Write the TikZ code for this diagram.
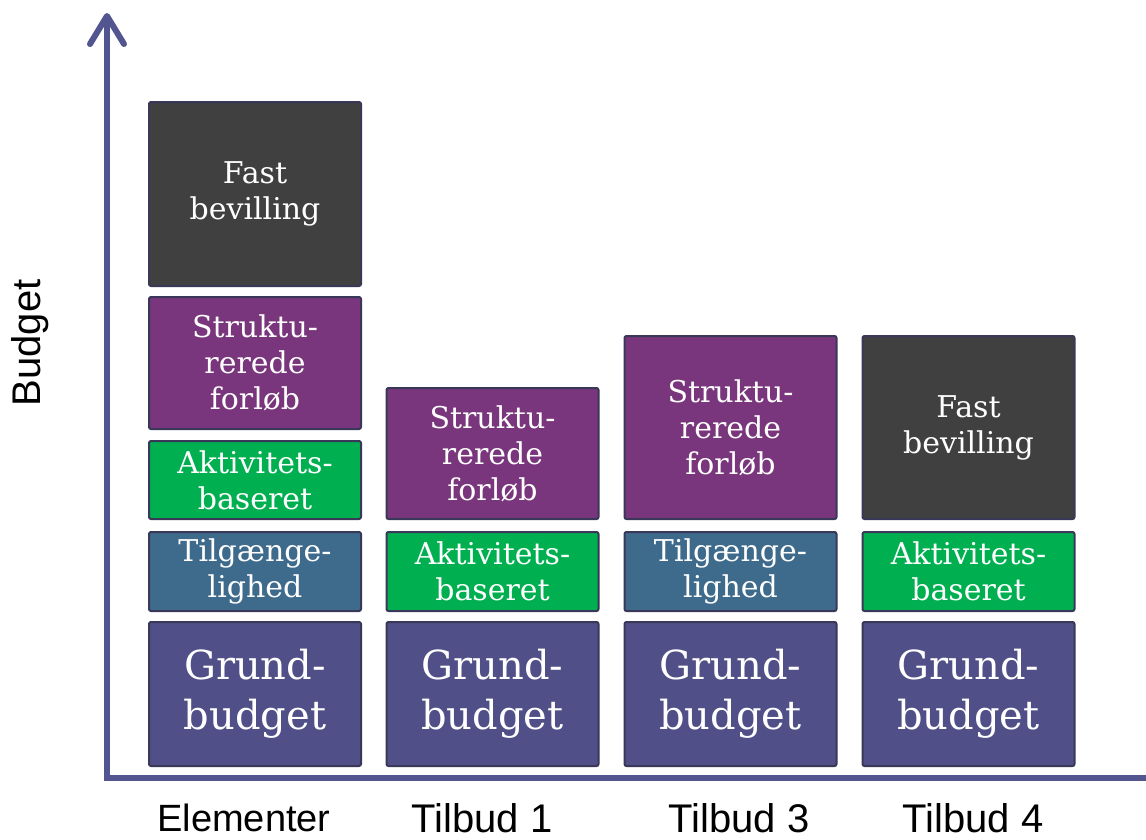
\documentclass[tikz,border=0pt]{standalone}
\usepackage{fontspec}
\setmainfont{DejaVu Serif}
\newfontfamily\labelfont{Liberation Sans}
\usetikzlibrary{arrows.meta}
\definecolor{grundc}{RGB}{80,79,136}
\definecolor{tilgc}{RGB}{62,106,140}
\definecolor{aktc}{RGB}{0,176,80}
\definecolor{strukc}{RGB}{122,54,124}
\definecolor{fastc}{RGB}{64,64,64}
\definecolor{borderc}{RGB}{58,56,88}
\definecolor{axisc}{RGB}{82,85,143}
\tikzset{
  box/.style={draw=borderc, line width=2pt, rounded corners=2pt, text=white,
    inner sep=0pt, minimum width=212pt, align=center,
    font=\fontsize{30}{36}\selectfont},
  bigbox/.style={box, font=\fontsize{40}{50}\selectfont},
  axisline/.style={draw=axisc, line width=6pt},
  axlabel/.style={font=\labelfont\fontsize{40}{48}\selectfont, text=black, inner sep=0pt}
}
\begin{document}
\begin{tikzpicture}[x=1pt,y=-1pt]
\useasboundingbox (0,0) rectangle (1146,839);
% axes
\coordinate (origin) at (107,778);
\coordinate (ytop) at (107,13);
\coordinate (xend) at (1146,778);
\draw[axisline] (104,778) -- (xend);
\draw[axisline, -{Straight Barb[length=28pt,width=34pt,round]}] (107,781) -- (ytop);
% Elementer column
\node[bigbox, fill=grundc, minimum height=144pt] (e1) at (255,694) {Grund-\\budget};
\node[box, fill=tilgc, minimum height=79pt] (e2) at (255,571.5) {Tilgænge-\\lighed};
\node[box, fill=aktc, minimum height=78pt] (e3) at (255,480) {Aktivitets-\\baseret};
\node[box, fill=strukc, minimum height=132pt] (e4) at (255,363) {Struktu-\\rerede\\forløb};
\node[box, fill=fastc, minimum height=184pt] (e5) at (255,194) {Fast\\bevilling};
% Tilbud 1
\node[bigbox, fill=grundc, minimum height=144pt] (a1) at (492.5,694) {Grund-\\budget};
\node[box, fill=aktc, minimum height=79pt] (a2) at (492.5,571.5) {Aktivitets-\\baseret};
\node[box, fill=strukc, minimum height=131pt] (a3) at (492.5,453.5) {Struktu-\\rerede\\forløb};
% Tilbud 3
\node[bigbox, fill=grundc, minimum height=144pt] (b1) at (730.5,694) {Grund-\\budget};
\node[box, fill=tilgc, minimum height=79pt] (b2) at (730.5,571.5) {Tilgænge-\\lighed};
\node[box, fill=strukc, minimum height=183pt] (b3) at (730.5,427.5) {Struktu-\\rerede\\forløb};
% Tilbud 4
\node[bigbox, fill=grundc, minimum height=144pt] (c1) at (968.5,694) {Grund-\\budget};
\node[box, fill=aktc, minimum height=79pt] (c2) at (968.5,571.5) {Aktivitets-\\baseret};
\node[box, fill=fastc, minimum height=183pt] (c3) at (968.5,427.5) {Fast\\bevilling};
% labels
\node[axlabel, rotate=90] (ylab) at (30,343) {Budget};
\node[axlabel, anchor=base, font=\labelfont\fontsize{38}{44}\selectfont] (l0) at (244,831) {Elementer};
\node[axlabel, anchor=base] (l1) at (482,832) {Tilbud 1};
\node[axlabel, anchor=base] (l3) at (739,832) {Tilbud 3};
\node[axlabel, anchor=base] (l4) at (973,832) {Tilbud 4};
\end{tikzpicture}
\end{document}
